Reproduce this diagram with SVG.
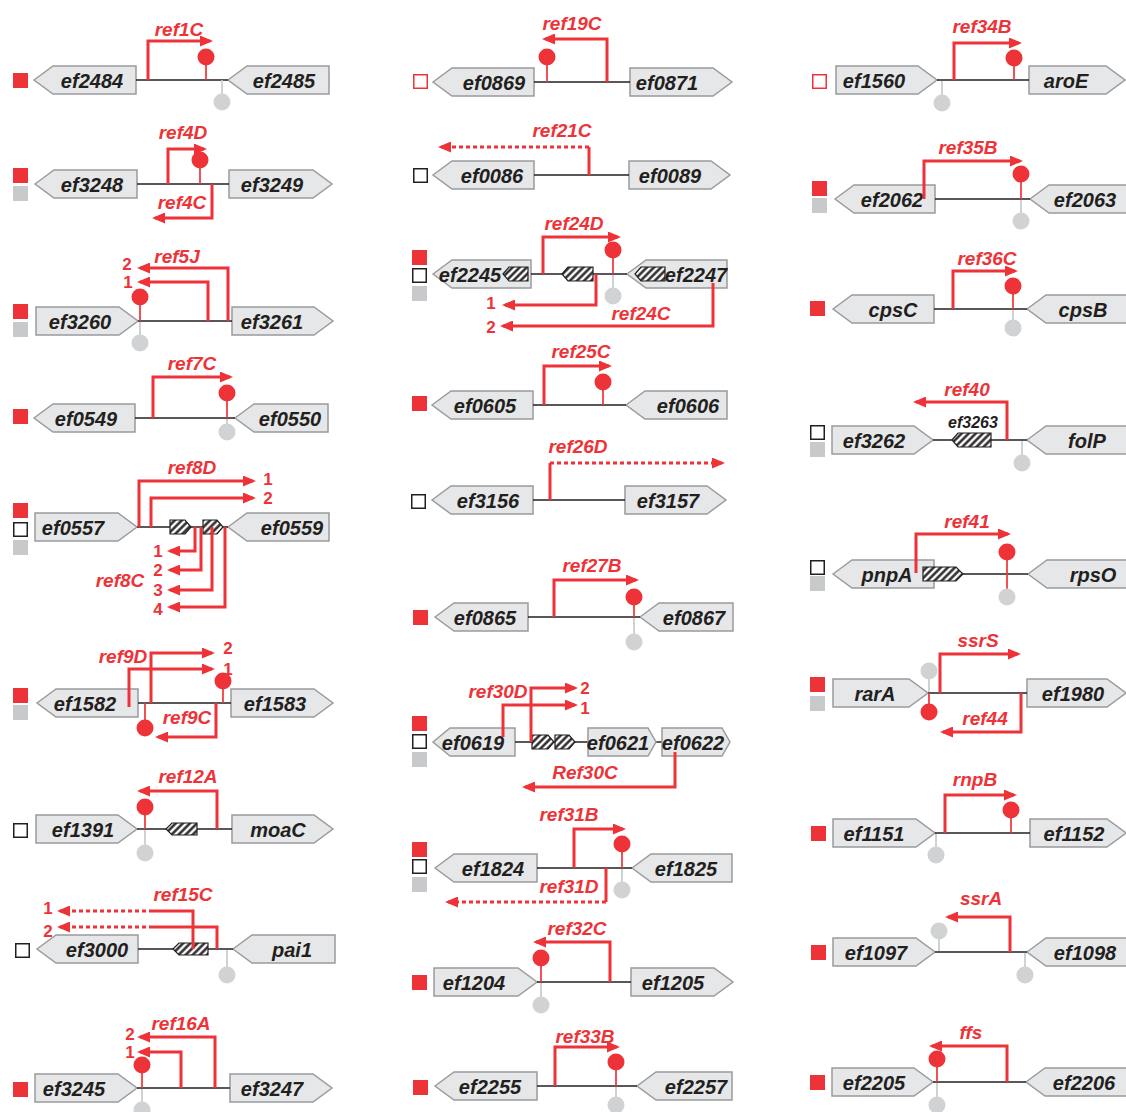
<svg xmlns="http://www.w3.org/2000/svg" width="1126" height="1112" viewBox="0 0 1126 1112">
<style>
.gb{fill:#e6e7e8;stroke:#9a9b9d;stroke-width:1.5}
.gt{font-family:"Liberation Sans",Arial,sans-serif;font-style:italic;font-weight:bold;font-size:20px;fill:#231f20;text-anchor:middle}
.ln{stroke:#231f20;stroke-width:1.5;fill:none}
.pr{fill:none;stroke:#ee3338;stroke-width:3;stroke-linejoin:miter}
.ah{marker-end:url(#ah)}
.dt{stroke-dasharray:4 3}
.lb{font-family:"Liberation Sans",Arial,sans-serif;font-style:italic;font-weight:bold;font-size:19px;fill:#ee3338;text-anchor:middle}
.nm{font-family:"Liberation Sans",Arial,sans-serif;font-weight:bold;font-size:17px;fill:#ee3338;text-anchor:middle}
.sm{font-family:"Liberation Sans",Arial,sans-serif;font-style:italic;font-weight:bold;font-size:16px;fill:#231f20;text-anchor:middle}
.rs{stroke:#ee3338;stroke-width:1.7}
.rc{fill:#ee3338}
.gs{stroke:#c8c9cb;stroke-width:1.7}
.gc{fill:#d1d2d4}
.sr{fill:#ee3338}
.sg{fill:#c8c9cb}
.sw{fill:#fff;stroke:#231f20;stroke-width:1.5}
.so{fill:#fff;stroke:#ee3338;stroke-width:1.5}
.hb{fill:url(#hatch);stroke:#231f20;stroke-width:1.2}
</style>
<defs>
<pattern id="hatch" width="5" height="5" patternUnits="userSpaceOnUse" patternTransform="rotate(45)">
<rect width="5" height="5" fill="#fff"/>
<line x1="1.5" y1="0" x2="1.5" y2="5" stroke="#231f20" stroke-width="2.4"/>
</pattern>
<marker id="ah" markerUnits="userSpaceOnUse" markerWidth="13" markerHeight="11" viewBox="0 0 13 11" refX="10" refY="5.5" orient="auto">
<path d="M0,0 L13,5.5 L0,11 z" fill="#ee3338"/>
</marker>
</defs>
<rect width="1126" height="1112" fill="#fff"/>

<!-- Column 1 -->
<g id="locus-ef2484">
<rect class="sr" x="13" y="73" width="15" height="15"/>
<polygon class="gb" points="34,80 53,66 136,66 136,94 53,94"/>
<text class="gt" x="92" y="88">ef2484</text>
<polygon class="gb" points="228,80 247,66 329,66 329,94 247,94"/>
<text class="gt" x="284" y="88">ef2485</text>
<line class="ln" x1="136" y1="80" x2="228" y2="80"/>
<line class="rs" x1="206" y1="80" x2="206" y2="57"/><circle class="rc" cx="206" cy="57" r="8.5"/>
<line class="gs" x1="222" y1="80" x2="222" y2="102"/><circle class="gc" cx="222" cy="102" r="8.5"/>
<text class="lb" x="179" y="36">ref1C</text>
</g>
<g id="locus-ef3248">
<rect class="sr" x="13" y="168" width="15" height="15"/>
<rect class="sg" x="13" y="186" width="15" height="15"/>
<polygon class="gb" points="35,184 54,170 137,170 137,198 54,198"/>
<text class="gt" x="92" y="192">ef3248</text>
<polygon class="gb" points="229,170 313,170 332,184 313,198 229,198"/>
<text class="gt" x="272" y="192">ef3249</text>
<line class="ln" x1="137" y1="184" x2="229" y2="184"/>
<line class="rs" x1="200" y1="184" x2="200" y2="160"/><circle class="rc" cx="200" cy="160" r="8.5"/>
<text class="lb" x="183" y="139">ref4D</text>
<text class="lb" x="182" y="209">ref4C</text>
</g>
<g id="locus-ef3260">
<rect class="sr" x="13" y="304" width="15" height="15"/>
<rect class="sg" x="13" y="322" width="15" height="15"/>
<polygon class="gb" points="36,307 119,307 138,321 119,335 36,335"/>
<text class="gt" x="80" y="329">ef3260</text>
<polygon class="gb" points="232,307 314,307 333,321 314,335 232,335"/>
<text class="gt" x="272" y="329">ef3261</text>
<line class="ln" x1="138" y1="321" x2="232" y2="321"/>
<line class="rs" x1="140" y1="321" x2="140" y2="297"/><circle class="rc" cx="140" cy="297" r="8.5"/>
<line class="gs" x1="140" y1="322" x2="140" y2="343"/><circle class="gc" cx="140" cy="343" r="8.5"/>
<text class="lb" x="177" y="263">ref5J</text>
<text class="nm" x="127" y="270">2</text>
<text class="nm" x="128" y="288">1</text>
</g>
<g id="locus-ef0549">
<rect class="sr" x="13" y="409" width="15" height="15"/>
<polygon class="gb" points="34,418 53,404 135,404 135,432 53,432"/>
<text class="gt" x="86" y="426">ef0549</text>
<polygon class="gb" points="235,418 254,404 328,404 328,432 254,432"/>
<text class="gt" x="290" y="426">ef0550</text>
<line class="ln" x1="135" y1="418" x2="235" y2="418"/>
<line class="rs" x1="227" y1="418" x2="227" y2="393"/><circle class="rc" cx="227" cy="393" r="8.5"/>
<line class="gs" x1="227" y1="419" x2="227" y2="432"/><circle class="gc" cx="227" cy="432" r="8.5"/>
<text class="lb" x="192" y="370">ref7C</text>
</g>
<g id="locus-ef0557">
<rect class="sr" x="13" y="503" width="15" height="15"/>
<rect class="sw" x="13.75" y="522.75" width="13.5" height="13.5"/>
<rect class="sg" x="13" y="540" width="15" height="15"/>
<polygon class="gb" points="35,513 118,513 137,527 118,541 35,541"/>
<text class="gt" x="73" y="535">ef0557</text>
<polygon class="gb" points="228,527 247,513 329,513 329,541 247,541"/>
<text class="gt" x="292" y="535">ef0559</text>
<line class="ln" x1="137" y1="527" x2="228" y2="527"/>
<polygon class="hb" points="170,520 185,520 191,527 185,534 170,534"/>
<polygon class="hb" points="203,520 217,520 223,527 217,534 203,534"/>
<text class="lb" x="192" y="474">ref8D</text>
<text class="nm" x="268" y="485">1</text>
<text class="nm" x="268" y="504">2</text>
<text class="lb" x="120" y="587">ref8C</text>
<text class="nm" x="158" y="557">1</text>
<text class="nm" x="158" y="576">2</text>
<text class="nm" x="158" y="596">3</text>
<text class="nm" x="158" y="615">4</text>
</g>
<g id="locus-ef1582">
<rect class="sr" x="13" y="688" width="15" height="15"/>
<rect class="sg" x="13" y="705" width="15" height="15"/>
<polygon class="gb" points="37,703 56,689 138,689 138,717 56,717"/>
<text class="gt" x="85" y="711">ef1582</text>
<polygon class="gb" points="231,689 314,689 333,703 314,717 231,717"/>
<text class="gt" x="275" y="711">ef1583</text>
<line class="ln" x1="138" y1="703" x2="231" y2="703"/>
<line class="rs" x1="223" y1="703" x2="223" y2="681"/><circle class="rc" cx="223" cy="681" r="8.5"/>
<line class="rs" x1="145" y1="703" x2="145" y2="728"/><circle class="rc" cx="145" cy="728" r="8.5"/>
<text class="lb" x="123" y="663">ref9D</text>
<text class="nm" x="228" y="654">2</text>
<text class="nm" x="228" y="675">1</text>
<text class="lb" x="187" y="724">ref9C</text>
</g>
<g id="locus-ef1391">
<rect class="sw" x="13.75" y="823.75" width="13.5" height="13.5"/>
<polygon class="gb" points="36,815 118,815 137,829 118,843 36,843"/>
<text class="gt" x="83" y="837">ef1391</text>
<polygon class="gb" points="232,815 314,815 333,829 314,843 232,843"/>
<text class="gt" x="278" y="837">moaC</text>
<line class="ln" x1="137" y1="829" x2="232" y2="829"/>
<polygon class="hb" points="166,829 172,823 197,823 197,835 172,835"/>
<line class="rs" x1="145" y1="829" x2="145" y2="807"/><circle class="rc" cx="145" cy="807" r="8.5"/>
<line class="gs" x1="145" y1="830" x2="145" y2="853"/><circle class="gc" cx="145" cy="853" r="8.5"/>
<text class="lb" x="188" y="783">ref12A</text>
</g>
<g id="locus-ef3000">
<rect class="sw" x="15.75" y="943.75" width="13.5" height="13.5"/>
<polygon class="gb" points="37,949 56,935 138,935 138,963 56,963"/>
<text class="gt" x="97" y="957">ef3000</text>
<polygon class="gb" points="233,949 252,935 335,935 335,963 252,963"/>
<text class="gt" x="292" y="957">pai1</text>
<line class="ln" x1="138" y1="949" x2="233" y2="949"/>
<polygon class="hb" points="173,949 179,943 208,943 208,955 179,955"/>
<line class="gs" x1="227" y1="950" x2="227" y2="975"/><circle class="gc" cx="227" cy="975" r="8.5"/>
<text class="lb" x="183" y="901">ref15C</text>
<text class="nm" x="48" y="914">1</text>
<text class="nm" x="48" y="937">2</text>
</g>
<g id="locus-ef3245">
<rect class="sr" x="13" y="1082" width="15" height="15"/>
<polygon class="gb" points="35,1074 118,1074 137,1088 118,1102 35,1102"/>
<text class="gt" x="74" y="1096">ef3245</text>
<polygon class="gb" points="230,1074 313,1074 332,1088 313,1102 230,1102"/>
<text class="gt" x="272" y="1096">ef3247</text>
<line class="ln" x1="137" y1="1088" x2="230" y2="1088"/>
<line class="rs" x1="142" y1="1088" x2="142" y2="1065"/><circle class="rc" cx="142" cy="1065" r="8.5"/>
<line class="gs" x1="142" y1="1089" x2="142" y2="1110"/><circle class="gc" cx="142" cy="1110" r="8.5"/>
<text class="lb" x="181" y="1030">ref16A</text>
<text class="nm" x="130" y="1040">2</text>
<text class="nm" x="130" y="1058">1</text>
</g>

<!-- Column 2 -->
<g id="locus-ef0869">
<rect class="so" x="413.75" y="74.75" width="13.5" height="13.5"/>
<polygon class="gb" points="433,82 452,68 534,68 534,96 452,96"/>
<text class="gt" x="494" y="90">ef0869</text>
<polygon class="gb" points="630,68 713,68 732,82 713,96 630,96"/>
<text class="gt" x="667" y="90">ef0871</text>
<line class="ln" x1="534" y1="82" x2="630" y2="82"/>
<line class="rs" x1="547" y1="82" x2="547" y2="57"/><circle class="rc" cx="547" cy="57" r="8.5"/>
<text class="lb" x="572" y="30">ref19C</text>
</g>
<g id="locus-ef0086">
<rect class="sw" x="413.75" y="168.75" width="13.5" height="13.5"/>
<polygon class="gb" points="433,175 452,161 534,161 534,189 452,189"/>
<text class="gt" x="492" y="183">ef0086</text>
<polygon class="gb" points="629,161 711,161 730,175 711,189 629,189"/>
<text class="gt" x="670" y="183">ef0089</text>
<line class="ln" x1="534" y1="175" x2="629" y2="175"/>
<text class="lb" x="562" y="137">ref21C</text>
</g>
<g id="locus-ef2245">
<rect class="sr" x="412" y="250" width="15" height="15"/>
<rect class="sw" x="412.75" y="268.75" width="13.5" height="13.5"/>
<rect class="sg" x="412" y="286" width="15" height="15"/>
<polygon class="gb" points="433,274 452,260 531,260 531,288 452,288"/>
<text class="gt" x="470" y="282">ef2245</text>
<polygon class="hb" points="503,274 509,267 528,267 528,281 509,281"/>
<polygon class="gb" points="627,274 646,260 727,260 727,288 646,288"/>
<polygon class="hb" points="635,274 641,267 665,267 665,281 641,281"/>
<text class="gt" x="696" y="282">ef2247</text>
<line class="ln" x1="531" y1="274" x2="627" y2="274"/>
<polygon class="hb" points="562,274 568,267 593,267 593,281 568,281"/>
<line class="rs" x1="613" y1="274" x2="613" y2="250"/><circle class="rc" cx="613" cy="250" r="8.5"/>
<line class="gs" x1="613" y1="275" x2="613" y2="296"/><circle class="gc" cx="613" cy="296" r="8.5"/>
<text class="lb" x="574" y="230">ref24D</text>
<text class="lb" x="641" y="320">ref24C</text>
<text class="nm" x="491" y="309">1</text>
<text class="nm" x="491" y="333">2</text>
</g>
<g id="locus-ef0605">
<rect class="sr" x="412" y="396" width="15" height="15"/>
<polygon class="gb" points="432,405 451,391 533,391 533,419 451,419"/>
<text class="gt" x="485" y="413">ef0605</text>
<polygon class="gb" points="626,405 645,391 727,391 727,419 645,419"/>
<text class="gt" x="688" y="413">ef0606</text>
<line class="ln" x1="533" y1="405" x2="626" y2="405"/>
<line class="rs" x1="603" y1="405" x2="603" y2="382"/><circle class="rc" cx="603" cy="382" r="8.5"/>
<text class="lb" x="581" y="358">ref25C</text>
</g>
<g id="locus-ef3156">
<rect class="sw" x="411.75" y="494.75" width="13.5" height="13.5"/>
<polygon class="gb" points="432,500 451,486 533,486 533,514 451,514"/>
<text class="gt" x="488" y="508">ef3156</text>
<polygon class="gb" points="625,486 707,486 726,500 707,514 625,514"/>
<text class="gt" x="668" y="508">ef3157</text>
<line class="ln" x1="533" y1="500" x2="625" y2="500"/>
<text class="lb" x="578" y="453">ref26D</text>
</g>
<g id="locus-ef0865">
<rect class="sr" x="413" y="610" width="15" height="15"/>
<polygon class="gb" points="435,617 454,603 528,603 528,631 454,631"/>
<text class="gt" x="485" y="625">ef0865</text>
<polygon class="gb" points="640,617 659,603 733,603 733,631 659,631"/>
<text class="gt" x="694" y="625">ef0867</text>
<line class="ln" x1="528" y1="617" x2="640" y2="617"/>
<line class="rs" x1="634" y1="617" x2="634" y2="597"/><circle class="rc" cx="634" cy="597" r="8.5"/>
<line class="gs" x1="634" y1="618" x2="634" y2="642"/><circle class="gc" cx="634" cy="642" r="8.5"/>
<text class="lb" x="592" y="572">ref27B</text>
</g>
<g id="locus-ef0619">
<rect class="sr" x="412" y="716" width="15" height="15"/>
<rect class="sw" x="412.75" y="734.75" width="13.5" height="13.5"/>
<rect class="sg" x="412" y="752" width="15" height="15"/>
<polygon class="gb" points="433,742 450,728 515,728 515,756 450,756"/>
<text class="gt" x="473" y="750">ef0619</text>
<line class="ln" x1="515" y1="742" x2="588" y2="742"/>
<line class="ln" x1="656" y1="742" x2="662" y2="742"/>
<polygon class="hb" points="532,735 548,735 554,742 548,749 532,749"/>
<polygon class="hb" points="555,735 569,735 575,742 569,749 555,749"/>
<polygon class="gb" points="588,728 648,728 656,742 648,756 588,756"/>
<text class="gt" x="618" y="750">ef0621</text>
<polygon class="gb" points="662,728 722,728 730,742 722,756 662,756"/>
<text class="gt" x="693" y="750">ef0622</text>
<text class="lb" x="498" y="698">ref30D</text>
<text class="nm" x="585" y="694">2</text>
<text class="nm" x="585" y="714">1</text>
<text class="lb" x="585" y="779">Ref30C</text>
</g>
<g id="locus-ef1824">
<rect class="sr" x="412" y="842" width="15" height="15"/>
<rect class="sw" x="412.75" y="859.75" width="13.5" height="13.5"/>
<rect class="sg" x="412" y="877" width="15" height="15"/>
<polygon class="gb" points="435,868 454,854 537,854 537,882 454,882"/>
<text class="gt" x="493" y="876">ef1824</text>
<polygon class="gb" points="632,868 651,854 732,854 732,882 651,882"/>
<text class="gt" x="686" y="876">ef1825</text>
<line class="ln" x1="537" y1="868" x2="632" y2="868"/>
<line class="rs" x1="622" y1="868" x2="622" y2="844"/><circle class="rc" cx="622" cy="844" r="8.5"/>
<line class="gs" x1="622" y1="869" x2="622" y2="890"/><circle class="gc" cx="622" cy="890" r="8.5"/>
<text class="lb" x="569" y="821">ref31B</text>
<text class="lb" x="569" y="893">ref31D</text>
</g>
<g id="locus-ef1204">
<rect class="sr" x="412" y="975" width="15" height="15"/>
<polygon class="gb" points="434,968 518,968 537,982 518,996 434,996"/>
<text class="gt" x="474" y="990">ef1204</text>
<polygon class="gb" points="631,968 714,968 733,982 714,996 631,996"/>
<text class="gt" x="673" y="990">ef1205</text>
<line class="ln" x1="537" y1="982" x2="631" y2="982"/>
<line class="rs" x1="541" y1="982" x2="541" y2="958"/><circle class="rc" cx="541" cy="958" r="8.5"/>
<line class="gs" x1="541" y1="983" x2="541" y2="1005"/><circle class="gc" cx="541" cy="1005" r="8.5"/>
<text class="lb" x="577" y="935">ref32C</text>
</g>
<g id="locus-ef2255">
<rect class="sr" x="413" y="1080" width="15" height="15"/>
<polygon class="gb" points="435,1086 454,1072 537,1072 537,1100 454,1100"/>
<text class="gt" x="490" y="1094">ef2255</text>
<polygon class="gb" points="637,1086 656,1072 732,1072 732,1100 656,1100"/>
<text class="gt" x="696" y="1094">ef2257</text>
<line class="ln" x1="537" y1="1086" x2="637" y2="1086"/>
<line class="rs" x1="616" y1="1086" x2="616" y2="1062"/><circle class="rc" cx="616" cy="1062" r="8.5"/>
<line class="gs" x1="616" y1="1087" x2="616" y2="1105"/><circle class="gc" cx="616" cy="1105" r="8.5"/>
<text class="lb" x="585" y="1043">ref33B</text>
</g>

<!-- Column 3 -->
<g id="locus-ef1560">
<rect class="so" x="812.75" y="74.75" width="13.5" height="13.5"/>
<polygon class="gb" points="836,66 918,66 937,80 918,94 836,94"/>
<text class="gt" x="874" y="88">ef1560</text>
<polygon class="gb" points="1029,66 1106,66 1125,80 1106,94 1029,94"/>
<text class="gt" x="1066" y="88">aroE</text>
<line class="ln" x1="937" y1="80" x2="1029" y2="80"/>
<line class="gs" x1="942" y1="81" x2="942" y2="103"/><circle class="gc" cx="942" cy="103" r="8.5"/>
<line class="rs" x1="1014" y1="80" x2="1014" y2="58"/><circle class="rc" cx="1014" cy="58" r="8.5"/>
<text class="lb" x="982" y="33">ref34B</text>
</g>
<g id="locus-ef2062">
<rect class="sr" x="812" y="181" width="15" height="15"/>
<rect class="sg" x="812" y="198" width="15" height="15"/>
<polygon class="gb" points="835,199 854,185 935,185 935,213 854,213"/>
<text class="gt" x="892" y="207">ef2062</text>
<polygon class="gb" points="1030,199 1049,185 1127,185 1127,213 1049,213"/>
<text class="gt" x="1085" y="207">ef2063</text>
<line class="ln" x1="935" y1="199" x2="1030" y2="199"/>
<line class="rs" x1="1021" y1="199" x2="1021" y2="174"/><circle class="rc" cx="1021" cy="174" r="8.5"/>
<line class="gs" x1="1021" y1="200" x2="1021" y2="221"/><circle class="gc" cx="1021" cy="221" r="8.5"/>
<text class="lb" x="968" y="154">ref35B</text>
</g>
<g id="locus-cpsC">
<rect class="sr" x="810" y="301" width="15" height="15"/>
<polygon class="gb" points="833,309 852,295 934,295 934,323 852,323"/>
<text class="gt" x="893" y="317">cpsC</text>
<polygon class="gb" points="1027,309 1046,295 1127,295 1127,323 1046,323"/>
<text class="gt" x="1083" y="317">cpsB</text>
<line class="ln" x1="934" y1="309" x2="1027" y2="309"/>
<line class="rs" x1="1013" y1="309" x2="1013" y2="286"/><circle class="rc" cx="1013" cy="286" r="8.5"/>
<line class="gs" x1="1013" y1="310" x2="1013" y2="328"/><circle class="gc" cx="1013" cy="328" r="8.5"/>
<text class="lb" x="987" y="265">ref36C</text>
</g>
<g id="locus-ef3262">
<rect class="sw" x="810.75" y="425.75" width="13.5" height="13.5"/>
<rect class="sg" x="810" y="442" width="15" height="15"/>
<polygon class="gb" points="832,426 914,426 933,440 914,454 832,454"/>
<text class="gt" x="874" y="448">ef3262</text>
<polygon class="gb" points="1027,440 1046,426 1127,426 1127,454 1046,454"/>
<text class="gt" x="1087" y="448">folP</text>
<line class="ln" x1="933" y1="440" x2="1027" y2="440"/>
<polygon class="hb" points="952,440 958,433 991,433 991,447 958,447"/>
<text class="sm" x="973" y="428">ef3263</text>
<line class="gs" x1="1022" y1="441" x2="1022" y2="463"/><circle class="gc" cx="1022" cy="463" r="8.5"/>
<text class="lb" x="967" y="396">ref40</text>
</g>
<g id="locus-pnpA">
<rect class="sw" x="810.75" y="560.75" width="13.5" height="13.5"/>
<rect class="sg" x="810" y="576" width="15" height="15"/>
<polygon class="gb" points="833,574 852,560 934,560 934,588 852,588"/>
<text class="gt" x="887" y="582">pnpA</text>
<polygon class="hb" points="923,567 956,567 963,574 956,581 923,581"/>
<polygon class="gb" points="1028,574 1047,560 1127,560 1127,588 1047,588"/>
<text class="gt" x="1093" y="582">rpsO</text>
<line class="ln" x1="963" y1="574" x2="1028" y2="574"/>
<line class="rs" x1="1007" y1="552" x2="1007" y2="597"/>
<circle class="rc" cx="1007" cy="552" r="8.5"/>
<circle class="gc" cx="1007" cy="597" r="8.5"/>
<text class="lb" x="967" y="528">ref41</text>
</g>
<g id="locus-rarA">
<rect class="sr" x="810" y="677" width="15" height="15"/>
<rect class="sg" x="810" y="696" width="15" height="15"/>
<polygon class="gb" points="833,679 909,679 928,693 909,707 833,707"/>
<text class="gt" x="875" y="701">rarA</text>
<polygon class="gb" points="1027,679 1107,679 1126,693 1107,707 1027,707"/>
<text class="gt" x="1073" y="701">ef1980</text>
<line class="ln" x1="928" y1="693" x2="1027" y2="693"/>
<line class="gs" x1="929" y1="692" x2="929" y2="671"/><circle class="gc" cx="929" cy="671" r="8.5"/>
<line class="rs" x1="929" y1="693" x2="929" y2="712"/><circle class="rc" cx="929" cy="712" r="8.5"/>
<text class="lb" x="978" y="647">ssrS</text>
<text class="lb" x="985" y="725">ref44</text>
</g>
<g id="locus-ef1151">
<rect class="sr" x="811" y="826" width="15" height="15"/>
<polygon class="gb" points="833,819 916,819 935,833 916,847 833,847"/>
<text class="gt" x="874" y="841">ef1151</text>
<polygon class="gb" points="1030,819 1107,819 1126,833 1107,847 1030,847"/>
<text class="gt" x="1074" y="841">ef1152</text>
<line class="ln" x1="935" y1="833" x2="1030" y2="833"/>
<line class="gs" x1="936" y1="834" x2="936" y2="855"/><circle class="gc" cx="936" cy="855" r="8.5"/>
<line class="rs" x1="1011" y1="833" x2="1011" y2="810"/><circle class="rc" cx="1011" cy="810" r="8.5"/>
<text class="lb" x="975" y="786">rnpB</text>
</g>
<g id="locus-ef1097">
<rect class="sr" x="811" y="945" width="15" height="15"/>
<polygon class="gb" points="833,938 916,938 935,952 916,966 833,966"/>
<text class="gt" x="876" y="960">ef1097</text>
<polygon class="gb" points="1027,952 1046,938 1127,938 1127,966 1046,966"/>
<text class="gt" x="1085" y="960">ef1098</text>
<line class="ln" x1="935" y1="952" x2="1027" y2="952"/>
<line class="gs" x1="939" y1="951" x2="939" y2="931"/><circle class="gc" cx="939" cy="931" r="8.5"/>
<line class="gs" x1="1025" y1="953" x2="1025" y2="975"/><circle class="gc" cx="1025" cy="975" r="8.5"/>
<text class="lb" x="981" y="905">ssrA</text>
</g>
<g id="locus-ef2205">
<rect class="sr" x="810" y="1075" width="15" height="15"/>
<polygon class="gb" points="832,1068 914,1068 933,1082 914,1096 832,1096"/>
<text class="gt" x="874" y="1090">ef2205</text>
<polygon class="gb" points="1026,1082 1045,1068 1127,1068 1127,1096 1045,1096"/>
<text class="gt" x="1084" y="1090">ef2206</text>
<line class="ln" x1="933" y1="1082" x2="1026" y2="1082"/>
<line class="rs" x1="937" y1="1082" x2="937" y2="1059"/><circle class="rc" cx="937" cy="1059" r="8.5"/>
<line class="gs" x1="937" y1="1083" x2="937" y2="1105"/><circle class="gc" cx="937" cy="1105" r="8.5"/>
<text class="lb" x="971" y="1039">ffs</text>
</g>

<g id="connectors">
<path class="pr ah" d="M148,80 V41 H210"/>
<path class="pr ah" d="M168,184 V149 H204"/>
<path class="pr ah" d="M212,184 V218 H155"/>
<path class="pr ah" d="M228,321 V268 H140"/>
<path class="pr ah" d="M208,321 V282 H140"/>
<path class="pr ah" d="M153,418 V377 H230"/>
<path class="pr ah" d="M139,527 V481 H253"/>
<path class="pr ah" d="M151,527 V498 H253"/>
<path class="pr ah" d="M195,527 V551 H170"/>
<path class="pr ah" d="M201,527 V570 H170"/>
<path class="pr ah" d="M212,527 V590 H170"/>
<path class="pr ah" d="M225,527 V607 H170"/>
<path class="pr ah" d="M129,707 V669 H212"/>
<path class="pr ah" d="M151,703 V653 H212"/>
<path class="pr ah" d="M216,703 V737 H158"/>
<path class="pr ah" d="M217,829 V791 H140"/>
<path class="pr" d="M193,949 V911 H153"/>
<path class="pr ah dt" d="M153,911 H60"/>
<path class="pr" d="M217,949 V927 H153"/>
<path class="pr ah dt" d="M153,927 H60"/>
<path class="pr ah" d="M215,1088 V1037 H140"/>
<path class="pr ah" d="M181,1088 V1052 H140"/>

<path class="pr ah" d="M607,82 V39 H545"/>
<path class="pr" d="M589,175 V147"/>
<path class="pr ah dt" d="M589,147 H441"/>
<path class="pr ah" d="M543,274 V237 H618"/>
<path class="pr ah" d="M596,274 V305 H505"/>
<path class="pr ah" d="M713,283 V326 H503"/>
<path class="pr ah" d="M544,405 V366 H609"/>
<path class="pr" d="M550,500 V463"/>
<path class="pr ah dt" d="M550,463 H722"/>
<path class="pr ah" d="M554,617 V580 H636"/>
<path class="pr ah" d="M503,737 V705 H575"/>
<path class="pr ah" d="M531,742 V688 H575"/>
<path class="pr ah" d="M675,752 V787 H525"/>
<path class="pr ah" d="M574,868 V829 H623"/>
<path class="pr" d="M606,868 V902"/>
<path class="pr ah dt" d="M606,902 H448"/>
<path class="pr ah" d="M610,982 V942 H536"/>
<path class="pr ah" d="M555,1086 V1047 H617"/>

<path class="pr ah" d="M954,80 V43 H1019"/>
<path class="pr ah" d="M924,199 V161 H1020"/>
<path class="pr ah" d="M953,309 V271 H1015"/>
<path class="pr ah" d="M1007,440 V402 H916"/>
<path class="pr ah" d="M916,573 V534 H1008"/>
<path class="pr ah" d="M940,693 V654 H1018"/>
<path class="pr ah" d="M1021,693 V732 H943"/>
<path class="pr ah" d="M945,833 V795 H1014"/>
<path class="pr ah" d="M1010,952 V917 H948"/>
<path class="pr ah" d="M1007,1082 V1046 H932"/>
</g>
</svg>
